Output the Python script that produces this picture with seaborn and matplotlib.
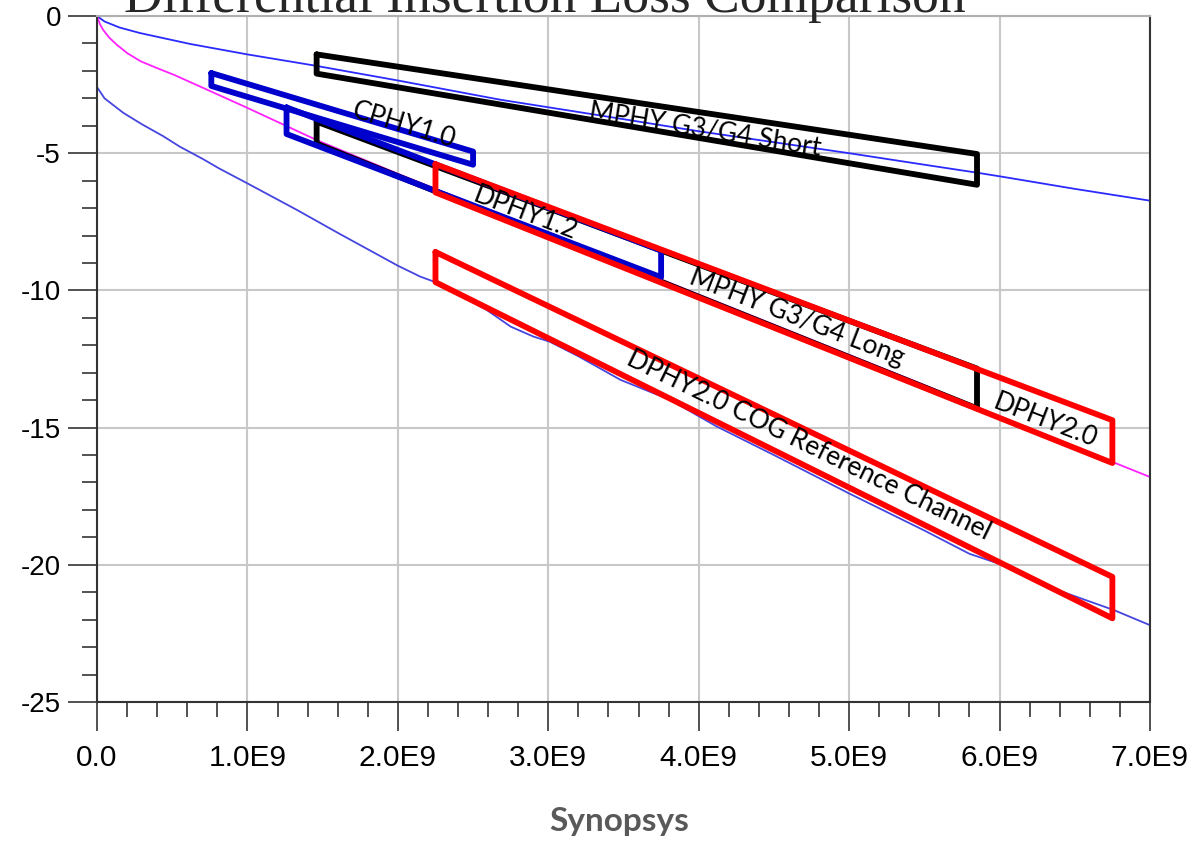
import numpy as np
import pandas as pd
import matplotlib
matplotlib.use("Agg")
import matplotlib.pyplot as plt
import seaborn as sns
from matplotlib.ticker import MultipleLocator, FuncFormatter

# measured insertion loss curves (frequency in Hz, loss in dB)
short_freq = np.array([0, 0.05, 0.15, 0.285, 0.62, 1.0, 1.44, 2.0, 2.68, 3.34, 4.0, 4.5,
                       5.0, 5.5, 5.85, 6.02, 6.5, 7.0]) * 1e9
short_loss = [0, -0.2, -0.42, -0.62, -1.02, -1.4, -1.8, -2.35, -3.05, -3.62, -4.2, -4.6,
              -5.0, -5.42, -5.71, -5.86, -6.3, -6.73]

long_freq = np.array([0, 0.02, 0.04, 0.08, 0.13, 0.2, 0.29, 0.4, 0.51, 0.73, 1.0, 1.24, 1.46,
                      2.0, 2.5, 3.0, 3.5, 4.0, 4.5, 5.0, 5.5, 5.85, 6.0, 6.5, 7.0]) * 1e9
long_loss = [0, -0.3, -0.5, -0.78, -1.04, -1.35, -1.65, -1.9, -2.14, -2.68, -3.35, -3.96,
             -4.52, -5.75, -6.85, -7.95, -9.05, -10.15, -11.25, -12.35, -13.45, -14.25,
             -14.6, -15.7, -16.8]

cog_freq = np.array([0, 0.05, 0.175, 0.3, 0.44, 0.55, 0.7, 0.81, 1.0, 1.33, 1.6, 2.0, 2.15,
                     2.25, 2.59, 2.75, 2.9, 3.01, 3.2, 3.48, 3.81, 4.12, 4.5, 5.0, 5.5, 5.8,
                     6.1, 6.4, 6.76, 7.0]) * 1e9
cog_loss = [-2.59, -3.0, -3.53, -3.95, -4.38, -4.76, -5.2, -5.55, -6.1, -7.07, -7.9, -9.1,
            -9.5, -9.7, -10.71, -11.32, -11.68, -11.87, -12.4, -13.26, -13.99, -14.96, -16.0,
            -17.4, -18.75, -19.6, -20.15, -20.95, -21.65, -22.2]

# spec masks: left/right frequency, top and bottom limits at each end
mask_names = ["MPHY G3/G4 Short", "CPHY1.0", "MPHY G3/G4 Long", "DPHY1.2", "DPHY2.0",
              "DPHY2.0 COG Reference Channel"]
mask_f_left = np.array([1.46, 0.76, 1.46, 1.26, 2.25, 2.25]) * 1e9
mask_f_right = np.array([5.85, 2.5, 5.85, 3.75, 6.75, 6.75]) * 1e9
mask_top_left = [-1.4, -2.08, -3.85, -3.33, -5.4, -8.6]
mask_bot_left = [-2.1, -2.55, -4.65, -4.3, -6.43, -9.7]
mask_top_right = [-5.03, -4.94, -12.85, -8.55, -14.73, -20.44]
mask_bot_right = [-6.15, -5.42, -14.3, -9.52, -16.29, -21.95]
mask_colors = ["black", "#0000cc", "black", "#0000cc", "#ff0000", "#ff0000"]

# label positions
label_freq = np.array([4.04, 2.04, 4.65, 2.85, 6.3, 4.73]) * 1e9
label_loss = [-4.15, -3.98, -11.0, -7.19, -14.75, -15.63]

sns.set_style("white")
plt.rcParams["font.family"] = ["Liberation Sans", "DejaVu Sans"]

fig = plt.figure(figsize=(12.01, 8.43), dpi=100)
ax = fig.add_axes([97 / 1201, 1 - 702 / 843, (1150 - 97) / 1201, (702 - 16) / 843])

curves = pd.concat([
    pd.DataFrame({"freq": short_freq, "loss": short_loss, "channel": "short"}),
    pd.DataFrame({"freq": long_freq, "loss": long_loss, "channel": "long"}),
    pd.DataFrame({"freq": cog_freq, "loss": cog_loss, "channel": "cog"}),
])
sns.lineplot(data=curves, x="freq", y="loss", hue="channel", sort=False, estimator=None,
             palette={"short": "#2a2aff", "long": "#ff22ff", "cog": "#4545e0"},
             linewidth=1.3, legend=False, ax=ax, zorder=2)

for i in range(len(mask_names)):
    xs = [mask_f_left[i], mask_f_right[i], mask_f_right[i], mask_f_left[i], mask_f_left[i]]
    ys = [mask_top_left[i], mask_top_right[i], mask_bot_right[i], mask_bot_left[i],
          mask_top_left[i]]
    ax.plot(xs, ys, color=mask_colors[i], lw=4.2, solid_joinstyle="round", zorder=3 + i)

ax.set_xlim(0, 7e9)
ax.set_ylim(-25, 0)
ax.set_xlabel("")
ax.set_ylabel("")

ax.xaxis.set_major_locator(MultipleLocator(1e9))
ax.xaxis.set_minor_locator(MultipleLocator(0.2e9))
ax.yaxis.set_major_locator(MultipleLocator(5))
ax.yaxis.set_minor_locator(MultipleLocator(1))
ax.xaxis.set_major_formatter(FuncFormatter(lambda v, p: "0.0" if v == 0 else f"{v / 1e9:.1f}E9"))
ax.yaxis.set_major_formatter(FuncFormatter(lambda v, p: f"{v:.0f}"))
ax.tick_params(which="major", direction="out", length=21, width=1.2, color="#333333",
               labelcolor="black")
ax.tick_params(which="minor", direction="out", length=11, width=1.2, color="#333333")
ax.tick_params(axis="x", which="major", pad=9, labelsize=21.5)
ax.tick_params(axis="y", which="major", pad=5, labelsize=20)
ax.tick_params(bottom=True, left=True, which="both")

ax.grid(True, which="major", color="#c8c8c8", lw=1.5)
ax.set_axisbelow(True)
for side in ["left", "bottom", "right"]:
    ax.spines[side].set_color("#333333")
    ax.spines[side].set_linewidth(1.5)
ax.spines["top"].set_color("#b0b0b0")
ax.spines["top"].set_linewidth(1.5)

# rotated labels following the masks
for i in range(len(mask_names)):
    p = ax.transData.transform([(mask_f_left[i], (mask_top_left[i] + mask_bot_left[i]) / 2),
                                (mask_f_right[i], (mask_top_right[i] + mask_bot_right[i]) / 2)])
    ang = np.degrees(np.arctan2(p[1, 1] - p[0, 1], p[1, 0] - p[0, 0]))
    ax.text(label_freq[i], label_loss[i], mask_names[i], rotation=ang, rotation_mode="anchor",
            ha="center", va="center", fontsize=19, family=["Lato", "DejaVu Sans"],
            color="black", zorder=10)

fig.text(545 / 1201, 1 - 12 / 843, "Differential Insertion Loss Comparison", ha="center",
         va="baseline", fontsize=38.5, family=["Liberation Serif", "DejaVu Serif"])
fig.text(619.5 / 1201, 1 - 831 / 843, "Synopsys", ha="center", va="baseline", fontsize=24,
         fontweight="bold", color="#595959", family=["Lato", "DejaVu Sans"])

fig.savefig("out.png", dpi=100)
